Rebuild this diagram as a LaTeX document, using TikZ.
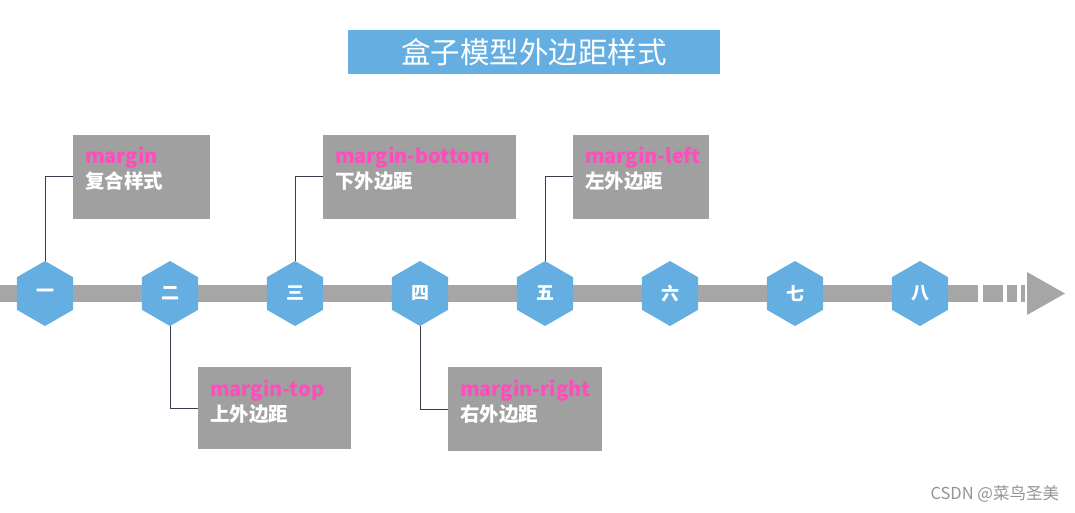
\documentclass[tikz,border=0pt]{standalone}
\usepackage{fontspec}
\setmainfont{Noto Sans CJK SC}
\usetikzlibrary{shapes.geometric}
\usetikzlibrary{calc}
\definecolor{hexblue}{RGB}{100,174,226}
\definecolor{bargray}{RGB}{166,166,166}
\definecolor{boxgray}{RGB}{160,160,160}
\definecolor{tagpink}{RGB}{255,77,190}
\definecolor{linkgray}{RGB}{58,58,76}
\tikzset{
  every node/.style = {inner sep=0pt, outer sep=0pt}
}
\tikzset{
  hexstep/.style = {regular polygon, regular polygon sides=6,
    shape border rotate=30, minimum size=65pt, fill=hexblue,
    text=white, font=\fontsize{18}{18}\selectfont\bfseries}
}
\tikzset{
  notebox/.style = {fill=boxgray, anchor=north west}
}
\tikzset{
  link/.style = {draw=linkgray, line width=1pt}
}
% box: name, x, y, width, height, property, meaning
\newcommand{\notebox}[7]{
  \node[notebox, minimum width=#4pt, minimum height=#5pt] (#1) at (#2,#3) {};
  \node[anchor=base west, text=tagpink, font=\fontsize{20}{20}\selectfont\bfseries]
    (#1p) at ($(#1.north west)+(12,29)$) {#6};
  \node[anchor=base west, text=white, font=\fontsize{19.5}{19.5}\selectfont\bfseries]
    (#1m) at ($(#1.north west)+(12,54)$) {#7};
}

\begin{document}
\begin{tikzpicture}[x=1pt, y=-1pt]
  \useasboundingbox (0,0) rectangle (1075,513);

  % title
  \node[fill=hexblue, minimum width=372pt, minimum height=44pt,
    text=white, font=\fontsize{29.5}{29.5}\selectfont] (title) at (534,52) {盒子模型外边距样式};

  % time line
  \fill[bargray] (0,285) rectangle (978,302);
  \fill[bargray] (983,285) rectangle (1003,302);
  \fill[bargray] (1007,285) rectangle (1017,302);
  \fill[bargray] (1021,285) rectangle (1025,302);
  \fill[bargray] (1027,272) -- (1065,293.5) -- (1027,315) -- cycle;

  \foreach \i/\lab in {1/一,2/二,3/三,4/四,5/五,6/六,7/七,8/八}
    \node[hexstep] (h\i) at ({45+125*(\i-1)},293.5) {\lab};

  % notes
  \notebox{b1}{73}{135}{137}{84}{margin}{复合样式}
  \notebox{b3}{323}{135}{193}{84}{margin-bottom}{下外边距}
  \notebox{b5}{573}{135}{136}{84}{margin-left}{左外边距}
  \notebox{b2}{198}{367}{153}{82}{margin-top}{上外边距}
  \notebox{b4}{448}{367}{154}{84}{margin-right}{右外边距}

  \draw[link] (h1.north) |- (b1.west);
  \draw[link] (h3.north) |- (b3.west);
  \draw[link] (h5.north) |- (b5.west);
  \draw[link] (h2.south) |- (b2.west);
  \draw[link] (h4.south) |- (b4.west);

  \node[anchor=east, text=gray!85, font=\fontsize{16.5}{16.5}\selectfont] (mark) at (1059,494) {CSDN @菜鸟圣美};
\end{tikzpicture}
\end{document}
